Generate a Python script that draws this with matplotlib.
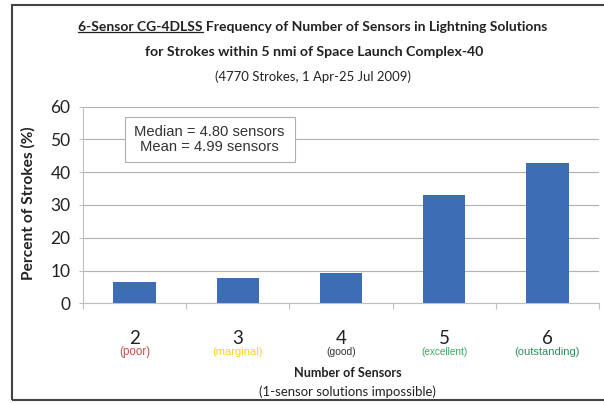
import matplotlib
matplotlib.use("Agg")
import matplotlib.pyplot as plt
from matplotlib.patches import Rectangle
from matplotlib.lines import Line2D

categories = ["2", "3", "4", "5", "6"]
quality = ["(poor)", "(marginal)", "(good)", "(excellent)", "(outstanding)"]
quality_colors = ["#c0504d", "#ffd21f", "#333333", "#3aa85a", "#2f8f5f"]
percents = [6.4, 7.6, 9.1, 33.0, 42.9]
yticks = [0, 10, 20, 30, 40, 50, 60]

CAL = ["Lato", "DejaVu Sans"]
ARIAL = ["Liberation Sans", "DejaVu Sans"]

fig = plt.figure(figsize=(6.04, 4.04), dpi=100)
fig.patch.set_facecolor("white")
W, H = 604, 404

def fy(p):
    return 1 - p / H

fits = []  # (text, target width px)

# outer frame
fig.add_artist(Rectangle((12/W, fy(400)), 1, (400-5)/H, transform=fig.transFigure,
                         fill=False, edgecolor="#444444", linewidth=1.5))

ax = fig.add_axes([83/W, fy(303.3), 516/W, (303.3-106.7)/H])
x = list(range(len(categories)))
ax.bar(x, percents, width=0.41, color="#3d6db5", zorder=3)
ax.set_xlim(-0.5, len(categories)-0.5)
ax.set_ylim(0, 60)
ax.set_yticks(yticks)
ax.set_yticklabels([str(t) for t in yticks], family=CAL, fontsize=12.5, color="#222222")
ax.yaxis.grid(True, color="#b0b0b0", linewidth=0.8, zorder=0)
for s in ["top", "right"]:
    ax.spines[s].set_visible(False)
for s in ["left", "bottom"]:
    ax.spines[s].set_color("#c0c0c0")
    ax.spines[s].set_linewidth(0.8)
ax.tick_params(axis="y", length=3, color="#c0c0c0", pad=6)
ax.set_xticks([i + 0.5 for i in range(-1, len(categories))])
ax.set_xticklabels([])
ax.tick_params(axis="x", length=4, color="#c0c0c0")

qwidths = [31, 50, 30, 46, 65]
for i, (c, q, qc) in enumerate(zip(categories, quality, quality_colors)):
    xf = ax.transData.transform((i, 0))[0] / W
    fig.text(xf, fy(338), c, ha="center", va="center", family=CAL, fontsize=13.5,
             color="#222222")
    tq = fig.text(xf, fy(352), q, ha="center", va="center", family=ARIAL, fontsize=7,
                  color=qc)
    fits.append((tq, qwidths[i]))

yl = fig.text(28/W, fy(203), "Percent of Strokes (%)", rotation=90, ha="center", va="center",
              family=CAL, fontsize=9, fontweight="bold", color="#222222")

# stats box
ax.add_patch(Rectangle((125/W, fy(162)), 170/W, 45/H, transform=fig.transFigure,
                       facecolor="white", edgecolor="#b0b0b0", linewidth=0.8, zorder=5))
tb = fig.text(209/W, fy(139.5), "Median = 4.80 sensors\nMean = 4.99 sensors",
              ha="center", va="center", family=ARIAL, fontsize=9.5, color="#333333",
              linespacing=1.1, zorder=6)
fits.append((tb, 150))

# axis titles
t_ns = fig.text(348/W, fy(373), "Number of Sensors", ha="center", va="center",
                family=CAL, fontsize=10, fontweight="bold", color="#222222")
t_imp = fig.text(347/W, fy(392), "(1-sensor solutions impossible)", ha="center", va="center",
                 family=CAL, fontsize=10, color="#222222")
fits += [(t_ns, 108), (t_imp, 178)]

# titles
prefix = "6-Sensor CG-4DLSS"
rest = " Frequency of Number of Sensors in Lightning Solutions"
t1 = fig.text(313/W, fy(27), prefix + rest, ha="center", va="center",
              family=CAL, fontsize=10.5, fontweight="bold", color="#222222")
t2 = fig.text(314/W, fy(52), "for Strokes within 5 nmi of Space Launch Complex-40", ha="center",
              va="center", family=CAL, fontsize=10.5, fontweight="bold", color="#222222")
t3 = fig.text(313/W, fy(77), "(4770 Strokes, 1 Apr-25 Jul 2009)", ha="center", va="center",
              family=CAL, fontsize=10.5, color="#222222")
fits += [(t1, 470), (t2, 340), (t3, 196), (yl, 153)]

fig.canvas.draw()
r = fig.canvas.get_renderer()
for t, target in fits:
    bb = t.get_window_extent(r)
    span = bb.height if t.get_rotation() == 90 else bb.width
    t.set_fontsize(t.get_fontsize() * target / span)

# underline the prefix
fig.canvas.draw()
bb = t1.get_window_extent(r)
tmp = fig.text(0, 0, prefix, family=CAL, fontsize=t1.get_fontsize(), fontweight="bold")
pw = tmp.get_window_extent(r).width
tmp.remove()
y_ul = (bb.y0 + 1.5) / H
fig.add_artist(Line2D([bb.x0 / W, (bb.x0 + pw) / W], [y_ul, y_ul], transform=fig.transFigure,
                      color="#222222", linewidth=0.9))

fig.savefig("out.png", dpi=100)
